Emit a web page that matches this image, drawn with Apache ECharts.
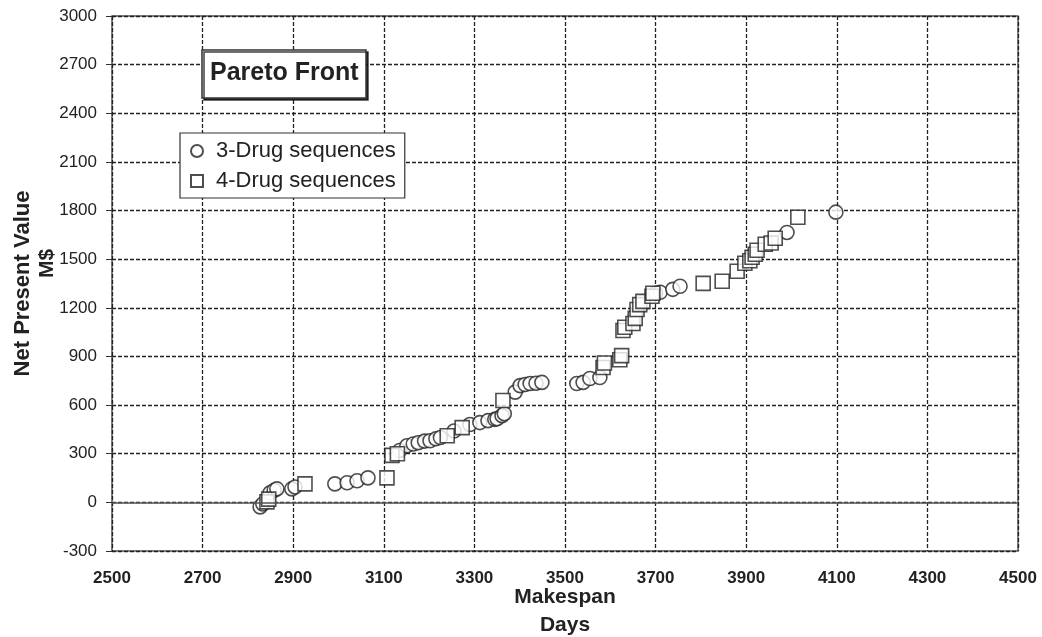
<!DOCTYPE html>
<html>
<head>
<meta charset="utf-8">
<script src="https://cdn.jsdelivr.net/npm/echarts@6/dist/echarts.min.js"></script>
<style>
  html, body { margin: 0; padding: 0; background: #fff; }
  #chart { width: 1042px; height: 637px; }
</style>
</head>
<body>
<div id="chart"></div>
<script>
// 3-drug sequences: makespan (days) / NPV (M$)
const threeDays = [2827, 2833, 2849, 2858, 2864, 2897, 2904, 2992, 3019, 3041, 3065,
  3135, 3151, 3165, 3176, 3190, 3202, 3215, 3225, 3255, 3290, 3312, 3330, 3345, 3350,
  3361, 3366, 3390, 3401, 3412, 3423, 3436, 3449, 3526, 3540, 3555, 3577, 3700, 3710,
  3738, 3754, 3990, 4098]
const threeNpv = [-28, -10, 59, 75, 83, 83, 95, 114, 121, 133, 151,
  320, 349, 360, 368, 378, 380, 392, 400, 440, 480, 492, 504, 512, 516,
  535, 547, 680, 720, 727, 733, 735, 740, 733, 740, 764, 770, 1290, 1296,
  1314, 1333, 1665, 1790]

// 4-drug sequences
const fourDays = [2842, 2846, 2926, 3107, 3118, 3130, 3240, 3273, 3363, 3584, 3587,
  3621, 3625, 3628, 3632, 3650, 3655, 3659, 3665, 3672, 3692, 3694, 3805, 3847, 3880,
  3897, 3908, 3913, 3920, 3924, 3942, 3955, 3964, 4014]
const fourNpv = [3, 20, 114, 151, 290, 300, 411, 461, 628, 832, 860,
  880, 905, 1060, 1080, 1103, 1135, 1190, 1220, 1240, 1271, 1290, 1351, 1364, 1426,
  1475, 1490, 1512, 1530, 1555, 1592, 1600, 1629, 1759]

const seriesNames = ['3-Drug sequences', '4-Drug sequences']

const zip = (xs, ys) => xs.map((x, i) => [x, ys[i]])
const font = 'Liberation Sans, Arial, sans-serif'
const gridDash = { color: '#222', type: [4, 2], width: 1.3 }

const chart = echarts.init(document.getElementById('chart'))

const option = {
  backgroundColor: '#fff',
  animation: false,
  title: {
    text: 'Pareto Front',
    left: 202,
    top: 50,
    padding: [11, 8, 12, 8],
    backgroundColor: '#fff',
    borderColor: '#333',
    borderWidth: 1.5,
    shadowColor: 'rgba(0,0,0,0.75)',
    shadowOffsetX: 2,
    shadowOffsetY: 2,
    textStyle: {
      fontFamily: font,
      fontSize: 25,
      fontWeight: 'bold',
      color: '#222'
    }
  },
  legend: {
    orient: 'vertical',
    left: 180,
    top: 133,
    padding: [7, 9, 6, 10],
    itemGap: 8,
    itemWidth: 12,
    itemHeight: 12,
    backgroundColor: '#fff',
    borderColor: '#333',
    borderWidth: 1.2,
    data: [
      { name: seriesNames[0], icon: 'circle' },
      { name: seriesNames[1], icon: 'rect' }
    ],
    textStyle: {
      fontFamily: font,
      fontSize: 22,
      color: '#222',
      padding: [0, 0, 0, 8]
    }
  },
  grid: {
    left: 112,
    right: 24,
    top: 16,
    bottom: 86,
    outerBoundsMode: 'none',
    containLabel: false,
    show: true,
    borderColor: '#555',
    borderWidth: 1.5
  },
  xAxis: {
    type: 'value',
    min: 2500,
    max: 4500,
    interval: 200,
    name: 'Makespan\nDays',
    nameLocation: 'middle',
    nameGap: 32,
    nameMoveOverlap: false,
    nameTextStyle: {
      fontFamily: font,
      fontSize: 21,
      fontWeight: 'bold',
      color: '#222',
      lineHeight: 28,
      verticalAlign: 'top'
    },
    axisLine: { show: false },
    axisTick: { show: false },
    axisLabel: {
      margin: 19,
      fontFamily: font,
      fontSize: 17,
      fontWeight: 'bold',
      color: '#222',
      formatter: v => String(v)
    },
    splitLine: { lineStyle: gridDash }
  },
  yAxis: {
    type: 'value',
    min: -300,
    max: 3000,
    interval: 300,
    name: '{a|Net Present Value}\n{b|M$}',
    nameLocation: 'middle',
    nameGap: 52,
    nameMoveOverlap: false,
    nameTextStyle: {
      fontFamily: font,
      fontSize: 22,
      fontWeight: 'bold',
      color: '#222',
      lineHeight: 25,
      rich: {
        a: { fontFamily: font, fontSize: 22, fontWeight: 'bold', color: '#222', lineHeight: 25 },
        b: { fontFamily: font, fontSize: 21, fontWeight: 'bold', color: '#222', lineHeight: 25, padding: [0, 0, 0, 40] }
      }
    },
    axisLine: { show: false },
    axisTick: { show: true, length: 6, lineStyle: { color: '#333' } },
    axisLabel: {
      margin: 15,
      fontFamily: font,
      fontSize: 17,
      color: '#222',
      formatter: v => String(v)
    },
    splitLine: { lineStyle: gridDash }
  },
  series: [
    {
      name: seriesNames[0],
      type: 'scatter',
      symbol: 'circle',
      symbolSize: 14,
      data: zip(threeDays, threeNpv),
      itemStyle: { color: '#fff', borderColor: '#222', borderWidth: 1.6 },
      markLine: {
        silent: true,
        symbol: 'none',
        label: { show: false },
        lineStyle: { color: '#555', type: 'solid', width: 1.5 },
        data: [{ yAxis: 0 }]
      },
      z: 3
    },
    {
      name: seriesNames[1],
      type: 'scatter',
      symbol: 'rect',
      symbolSize: 14,
      data: zip(fourDays, fourNpv),
      itemStyle: { color: '#fff', borderColor: '#222', borderWidth: 1.6 },
      z: 4
    }
  ]
}

chart.setOption(option)
</script>
</body>
</html>
